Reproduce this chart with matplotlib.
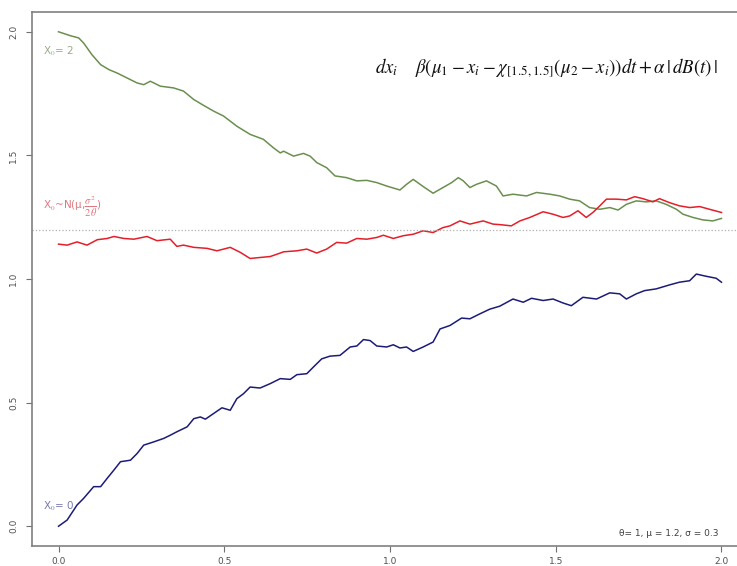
import matplotlib
matplotlib.use('Agg')
import matplotlib.pyplot as plt
import numpy as np

plt.rcParams['mathtext.fontset'] = 'stix'

# values (t, x)
t_green = [0.000, 0.036, 0.061, 0.076, 0.101, 0.127, 0.152, 0.177, 0.207, 0.237, 0.257, 0.277,
           0.307, 0.347, 0.377, 0.408, 0.438, 0.468, 0.498, 0.538, 0.578, 0.618, 0.648, 0.669,
           0.679, 0.709, 0.739, 0.759, 0.779, 0.809, 0.834, 0.869, 0.900, 0.930, 0.960, 0.990,
           1.030, 1.050, 1.070, 1.100, 1.130, 1.160, 1.186, 1.206, 1.221, 1.241, 1.261, 1.291,
           1.311, 1.321, 1.341, 1.371, 1.412, 1.442, 1.482, 1.512, 1.542, 1.572, 1.602, 1.633,
           1.663, 1.688, 1.713, 1.743, 1.773, 1.803, 1.833, 1.864, 1.884, 1.914, 1.944, 1.974, 2.000]
x_green = [2.000, 1.984, 1.975, 1.954, 1.907, 1.867, 1.847, 1.833, 1.813, 1.793, 1.786, 1.800,
           1.780, 1.773, 1.760, 1.726, 1.702, 1.679, 1.659, 1.618, 1.585, 1.565, 1.531, 1.510,
           1.517, 1.497, 1.508, 1.497, 1.471, 1.450, 1.417, 1.410, 1.397, 1.399, 1.390, 1.376,
           1.360, 1.383, 1.403, 1.374, 1.347, 1.370, 1.390, 1.410, 1.397, 1.370, 1.383, 1.397,
           1.383, 1.376, 1.336, 1.343, 1.336, 1.350, 1.343, 1.336, 1.323, 1.316, 1.289, 1.282,
           1.289, 1.279, 1.302, 1.316, 1.312, 1.316, 1.302, 1.282, 1.262, 1.249, 1.239, 1.235, 1.245]

t_red = [0.000, 0.026, 0.056, 0.086, 0.117, 0.147, 0.167, 0.197, 0.227, 0.267, 0.297, 0.337,
         0.357, 0.377, 0.408, 0.448, 0.478, 0.518, 0.548, 0.578, 0.608, 0.639, 0.669, 0.679,
         0.719, 0.749, 0.779, 0.809, 0.839, 0.869, 0.900, 0.930, 0.960, 0.980, 1.010, 1.040,
         1.070, 1.100, 1.130, 1.160, 1.181, 1.211, 1.241, 1.281, 1.311, 1.331, 1.366, 1.392,
         1.422, 1.462, 1.492, 1.522, 1.542, 1.567, 1.592, 1.612, 1.633, 1.653, 1.683, 1.713,
         1.738, 1.763, 1.793, 1.813, 1.843, 1.873, 1.904, 1.934, 1.964, 2.000]
x_red = [1.141, 1.137, 1.150, 1.137, 1.159, 1.164, 1.172, 1.164, 1.161, 1.172, 1.155, 1.161,
         1.132, 1.137, 1.128, 1.124, 1.114, 1.128, 1.108, 1.083, 1.087, 1.091, 1.105, 1.110,
         1.114, 1.121, 1.105, 1.121, 1.148, 1.145, 1.164, 1.161, 1.168, 1.177, 1.164, 1.175,
         1.181, 1.195, 1.188, 1.208, 1.215, 1.235, 1.222, 1.235, 1.222, 1.220, 1.215, 1.235,
         1.249, 1.272, 1.262, 1.249, 1.255, 1.276, 1.249, 1.269, 1.296, 1.323, 1.323, 1.320,
         1.333, 1.325, 1.312, 1.325, 1.309, 1.296, 1.289, 1.293, 1.282, 1.269]

t_blue = [0.000, 0.026, 0.056, 0.076, 0.106, 0.127, 0.147, 0.167, 0.187, 0.217, 0.237, 0.257,
          0.287, 0.317, 0.337, 0.357, 0.388, 0.408, 0.428, 0.443, 0.468, 0.493, 0.518, 0.538,
          0.558, 0.578, 0.608, 0.639, 0.669, 0.699, 0.719, 0.749, 0.769, 0.794, 0.819, 0.849,
          0.880, 0.900, 0.920, 0.940, 0.960, 0.990, 1.010, 1.030, 1.050, 1.070, 1.100, 1.130,
          1.151, 1.181, 1.216, 1.241, 1.271, 1.301, 1.331, 1.371, 1.402, 1.427, 1.462, 1.492,
          1.522, 1.547, 1.582, 1.623, 1.663, 1.693, 1.713, 1.743, 1.768, 1.803, 1.843, 1.873,
          1.904, 1.924, 1.954, 1.984, 2.000]
x_blue = [0.000, 0.025, 0.086, 0.113, 0.160, 0.160, 0.194, 0.227, 0.261, 0.267, 0.294, 0.328,
          0.341, 0.355, 0.368, 0.382, 0.402, 0.435, 0.442, 0.433, 0.456, 0.479, 0.469, 0.516,
          0.536, 0.563, 0.559, 0.577, 0.597, 0.594, 0.613, 0.617, 0.644, 0.677, 0.688, 0.691,
          0.725, 0.729, 0.755, 0.751, 0.729, 0.725, 0.734, 0.721, 0.725, 0.707, 0.725, 0.745,
          0.798, 0.812, 0.842, 0.839, 0.859, 0.878, 0.890, 0.919, 0.906, 0.922, 0.913, 0.919,
          0.903, 0.892, 0.926, 0.919, 0.944, 0.940, 0.919, 0.940, 0.953, 0.960, 0.976, 0.987,
          0.993, 1.020, 1.011, 1.003, 0.987]

mu = 1.2
ticks = [0.0, 0.5, 1.0, 1.5, 2.0]
tick_labels = ['0.0', '0.5', '1.0', '1.5', '2.0']

fig = plt.figure(figsize=(7.37, 5.66), dpi=100)
# the right edge of the box is cut off in the original
ax = fig.add_axes([32 / 737, 1 - 546 / 566, 716 / 737, 534 / 566])

ax.plot(t_green, x_green, color='#6b8f4e', lw=1.1)
ax.plot(t_red, x_red, color='#e41f2a', lw=1.1)
ax.plot(t_blue, x_blue, color='#1c1c78', lw=1.1)
ax.axhline(mu, color='#b0b0b0', ls=':', lw=0.9)

ax.set_xlim(-0.08, 2.08)
ax.set_ylim(-0.08, 2.08)
ax.set_xticks(ticks)
ax.set_yticks(ticks)
ax.set_xticklabels(tick_labels)
ax.set_yticklabels(tick_labels, rotation=90, va='center')
ax.tick_params(colors='#707070', labelcolor='#505050', labelsize=6.5, length=4, width=0.8)
ax.tick_params(axis='x', pad=4)
ax.tick_params(axis='y', pad=6)
for s in ax.spines.values():
    s.set_color('#808080')
    s.set_linewidth(1.2)
ax.spines['right'].set_visible(False)

# labels
ax.text(-0.048, 1.92, r'X$_0$= 2', color='#9aab88', fontsize=7.5, va='center')
ax.text(-0.048, 1.29, r'X$_0$~N(μ,$\dfrac{\sigma^2}{2\theta}$)', color='#e07880',
        fontsize=7.5, va='center')
ax.text(-0.048, 0.08, r'X$_0$= 0', color='#7878b0', fontsize=7.5, va='center')

ax.text(1.99, 1.85,
        r'$dx_i\quad\ \beta(\mu_1 - x_i - \chi_{[1.5,1.5]}(\mu_2 - x_i))dt + \alpha\,|\,dB(t)\,|$',
        fontsize=13.5, ha='right', va='center', color='#111111')
ax.text(1.99, -0.03, 'θ= 1, μ = 1.2, σ = 0.3', fontsize=6.5, ha='right', va='center',
        color='#404040')

plt.savefig('out.png', dpi=100)
